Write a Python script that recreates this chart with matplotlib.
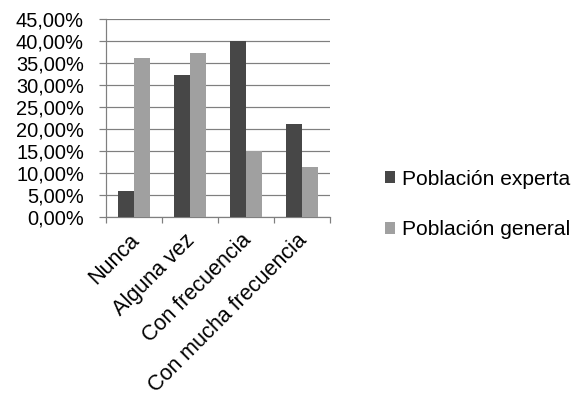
import matplotlib
matplotlib.use("Agg")
import matplotlib.pyplot as plt
import matplotlib.transforms as mtransforms
import numpy as np
from matplotlib.ticker import FuncFormatter, FixedLocator

categories = ["Nunca", "Alguna vez", "Con frecuencia", "Con mucha frecuencia"]
experta = [6.1, 32.4, 40.0, 21.2]
general = [36.2, 37.4, 15.1, 11.4]
series_names = ["Población experta", "Población general"]
y_ticks = [0, 5, 10, 15, 20, 25, 30, 35, 40, 45]

plt.rcParams["font.family"] = ["Liberation Sans", "DejaVu Sans"]

fig = plt.figure(figsize=(8, 5.5), dpi=72)
ax = fig.add_axes([0.184, 0.451, 0.389, 0.501])

x = np.arange(len(categories))
w = 0.285
grid_c = "#7f7f7f"
ax.bar(x - w / 2, experta, width=w, color="#474747", label=series_names[0], zorder=3)
ax.bar(x + w / 2, general, width=w, color="#a0a0a0", label=series_names[1], zorder=3)

ax.set_xlim(-0.5, len(categories) - 0.5)
ax.set_ylim(0, 45)
ax.set_yticks(y_ticks)
ax.yaxis.set_major_formatter(FuncFormatter(lambda v, p: f"{v:.2f}%".replace(".", ",")))
ax.grid(axis="y", color=grid_c, linewidth=1.2, zorder=0)

ax.set_xticks(x)
ax.set_xticklabels(categories, rotation=45, ha="right", va="center",
                   rotation_mode="anchor", fontsize=21.5)
ax.tick_params(axis="x", which="major", length=0, pad=20)
shift = mtransforms.ScaledTranslation(2 / 72, 0, fig.dpi_scale_trans)
for lab in ax.get_xticklabels():
    lab.set_transform(lab.get_transform() + shift)
ax.xaxis.set_minor_locator(FixedLocator(np.arange(-0.5, len(categories), 1.0)))
ax.tick_params(axis="x", which="minor", length=6, color=grid_c, width=1.2)
ax.tick_params(axis="y", length=7, color=grid_c, width=1.2, labelsize=20, pad=15)

for s in ["top", "right"]:
    ax.spines[s].set_visible(False)
ax.spines["left"].set_color(grid_c)
ax.spines["left"].set_linewidth(1.2)
ax.spines["bottom"].set_color(grid_c)
ax.spines["bottom"].set_linewidth(1.2)

fig.legend(loc="center left", bbox_to_anchor=(0.669, 0.4836), frameon=False,
           fontsize=21, handlelength=0.48, handleheight=0.48, handletextpad=0.3,
           labelspacing=1.5, borderpad=0, borderaxespad=0)

fig.savefig("out.png", dpi=72)
